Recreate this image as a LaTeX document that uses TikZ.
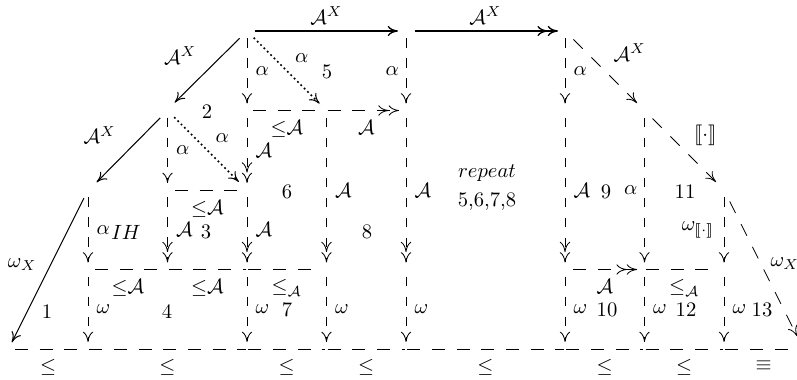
\documentclass[tikz,border=0pt]{standalone}
\usepackage{stmaryrd}
\usetikzlibrary{arrows.meta}
\begin{document}
\begin{tikzpicture}[x=0.485pt,y=-0.485pt,
  >={Computer Modern Rightarrow[length=5pt,width=5pt]},
  base/.style={line width=0.5pt},
  dbase/.style={line width=0.4pt},
  solidar/.style={base,->},
  hd/.style={dbase,dash pattern=on 6.3pt off 5.7pt},
  vd/.style={dbase,dash pattern=on 4.8pt off 4.9pt},
  dd/.style={dbase,dash pattern=on 6.3pt off 6pt},
  dotar/.style={line width=1.2pt,dash pattern=on 0pt off 2.3pt,line cap=round,
    -{Computer Modern Rightarrow[length=5pt,width=5pt,line width=0.5pt]}},
  vs/.style={shorten <=3.4pt,shorten >=3.4pt},
  rl/.style={midway,anchor=west,inner sep=0pt,xshift=4pt},
  ll/.style={midway,anchor=east,inner sep=0pt,xshift=-3.3pt},
  bl/.style={midway,anchor=north,inner sep=0pt,yshift=-4.8pt},
  al/.style={midway,anchor=south,inner sep=0pt,yshift=2.9pt},
  dl/.style={midway,inner sep=0pt},
  cell/.style={inner sep=0pt}
]
\useasboundingbox (0,0) rectangle (797,380);
\foreach \r/\y in {0/31,1/110.5,2/190,3/269.5,4/349}{
  \foreach \c/\x in {0/8.5,1/88,2/167.5,3/247,4/326.5,5/406,7/565,8/644.5,9/724,a/803.5}{
    \coordinate (n\r\c) at (\x,\y);
  }
}
% top solid arrows
\draw[solidar,line width=0.65pt,shorten <=3.9pt,shorten >=3.9pt] (n03) -- node[al] {$\mathcal{A}^X$} (n05);
\draw[base,line width=0.65pt,->>,shorten <=4.3pt,shorten >=3.4pt] (n05) -- node[al] {$\mathcal{A}^X$} (n07);
% left diagonal solid arrows
\draw[solidar,shorten <=5pt,shorten >=5.2pt] (n03) -- node[dl,shift={(-27,-15)}] {$\mathcal{A}^X$} (n12);
\draw[solidar,shorten <=5pt,shorten >=5.6pt] (n12) -- node[dl,shift={(-28,-15)}] {$\mathcal{A}^X$} (n21);
\draw[solidar,shorten <=4.4pt,shorten >=3.6pt] (n21) -- node[dl,shift={(-26,-5)}] {$\omega_X$} (n40);
% dotted
\draw[dotar,shorten <=5pt,shorten >=4.8pt] (n03) -- node[dl,shift={(15,-13)}] {$\alpha$} (n14);
\draw[dotar,shorten <=5pt,shorten >=5.6pt] (n12) -- node[dl,shift={(15,-12)}] {$\alpha$} (n23);
% right dashed diagonals
\draw[dd,->,shorten <=5.8pt,shorten >=5.1pt] (n07) -- node[dl,shift={(25,-18)}] {$\mathcal{A}^X$} (n18);
\draw[dd,->,shorten <=5.5pt,shorten >=5.5pt] (n18) -- node[dl,shift={(21,-15)}] {$\llbracket\cdot\rrbracket$} (n29);
\draw[dd,->,shorten <=6.2pt,shorten >=7pt] (n29) -- node[dl,shift={(21,-6)}] {$\omega_X$} (n4a);
% verticals
\draw[vd,->,vs] (n03) -- node[rl] {$\alpha$} (n13);
\draw[vd,->,vs] (n05) -- node[ll] {$\alpha$} (n15);
\draw[vd,->,vs] (n07) -- node[rl] {$\alpha$} (n17);
\draw[vd,->,vs] (n12) -- node[rl] {$\alpha$} (n22);
\draw[vd,->>,vs] (n13) -- node[rl] {$\mathcal{A}$} (n23);
\draw[vd,->>,vs] (n14) -- node[rl] {$\mathcal{A}$} (n34);
\draw[vd,->>,vs] (n15) -- node[rl] {$\mathcal{A}$} (n35);
\draw[vd,->>,vs] (n17) -- node[rl] {$\mathcal{A}$} (n37);
\draw[vd,->,vs] (n18) -- node[ll] {$\alpha$} (n38);
\draw[vd,->,vs] (n29) -- node[ll,xshift=-1.2pt] {$\omega_{\llbracket\cdot\rrbracket}$} (n39);
\draw[vd,->,vs] (n21) -- node[rl] {$\alpha$} (n31);
\draw[vd,->>,vs] (n22) -- node[rl] {$\mathcal{A}$} (n32);
\draw[vd,->>,vs] (n23) -- node[rl] {$\mathcal{A}$} (n33);
\foreach \c in {1,3,4,5,7,8,9}{
  \draw[vd,->,vs] (n3\c) -- node[rl] {$\omega$} (n4\c);
}
% horizontals
\draw[hd,shorten <=2.9pt,shorten >=0.5pt] (n13) -- node[bl] {${\leq}\mathcal{A}$} (n14);
\draw[hd,->>,shorten <=0.5pt,shorten >=3.4pt] (n14) -- node[bl] {$\mathcal{A}$} (n15);
\draw[hd,shorten <=3.6pt,shorten >=4.3pt] (n22) -- node[bl] {${\leq}\mathcal{A}$} (n23);
\draw[hd,shorten <=3.4pt,shorten >=0.5pt] (n31) -- node[bl] {${\leq}\mathcal{A}$} (n32);
\draw[hd,shorten <=0.5pt,shorten >=0.5pt] (n32) -- node[bl] {${\leq}\mathcal{A}$} (n33);
\draw[hd,shorten <=0.5pt,shorten >=4pt] (n33) -- node[bl] {${\leq}_{\mathcal{A}}$} (n34);
\draw[hd,->>,shorten <=3.9pt,shorten >=3.6pt] (n37) -- node[bl] {$\mathcal{A}$} (n38);
\draw[hd,shorten <=0.7pt,shorten >=2.9pt] (n38) -- node[bl] {${\leq}_{\mathcal{A}}$} (n39);
% bottom line
\draw[hd,shorten <=3.1pt,shorten >=0.5pt] (n40) -- node[bl] {$\leq$} (n41);
\draw[hd,shorten <=0.5pt,shorten >=0.5pt] (n41) -- node[bl] {$\leq$} (n43);
\draw[hd,shorten <=0.5pt,shorten >=0.5pt] (n43) -- node[bl] {$\leq$} (n44);
\draw[hd,shorten <=0.5pt,shorten >=0.5pt] (n44) -- node[bl] {$\leq$} (n45);
\draw[hd,shorten <=0.5pt,shorten >=0.5pt] (n45) -- node[bl] {$\leq$} (n47);
\draw[hd,shorten <=0.5pt,shorten >=0.5pt] (n47) -- node[bl] {$\leq$} (n48);
\draw[hd,shorten <=0.5pt,shorten >=0.5pt] (n48) -- node[bl] {$\leq$} (n49);
\draw[hd,shorten <=0.5pt] (n49) -- node[bl,yshift=-1pt] {$\equiv$} (n4a);
% cell labels
\node[cell] (c2) at (207,112) {2};
\node[cell] (c5) at (327,72) {5};
\node[cell] (c6) at (287,192) {6};
\node[cell] (c3) at (206,232) {3};
\node[cell] (cih) at (126,232) {$IH$};
\node[cell] (c8) at (367,232) {8};
\node[cell] (c1) at (47,312) {1};
\node[cell] (c4) at (167,312) {4};
\node[cell] (c7) at (287,310) {7};
\node[cell] (crep) at (487,173) {$repeat$};
\node[cell] (crep2) at (487,202) {5,6,7,8};
\node[cell] (c9) at (606,192) {9};
\node[cell] (c11) at (685,192) {11};
\node[cell] (c10) at (607,310) {10};
\node[cell] (c12) at (686,310) {12};
\node[cell] (c13) at (762,310) {13};
\end{tikzpicture}
\end{document}
